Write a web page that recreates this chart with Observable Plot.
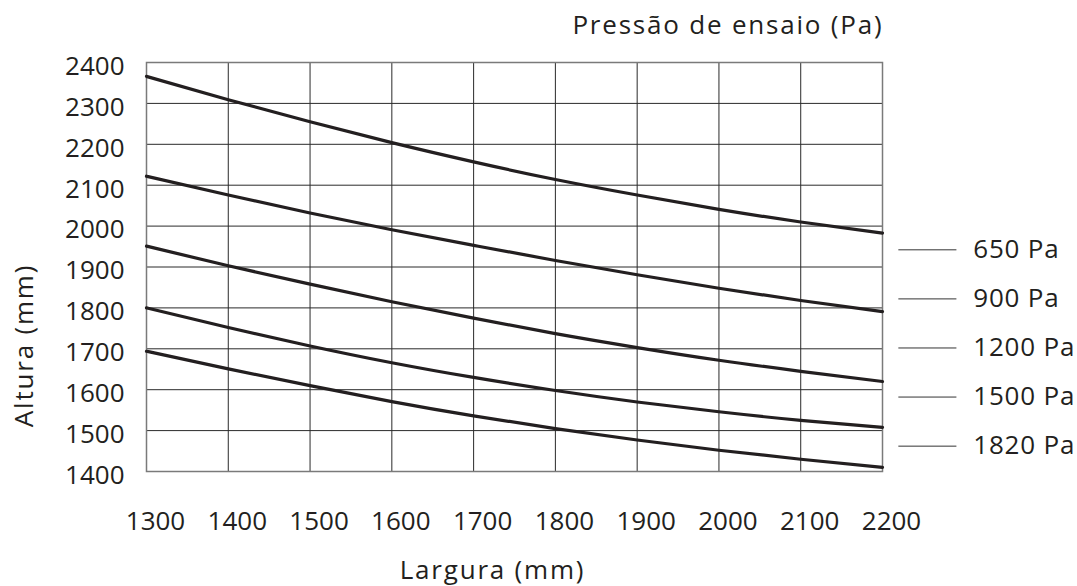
<!DOCTYPE html>
<html>
<head>
<meta charset="utf-8">
<script src="https://cdn.jsdelivr.net/npm/d3@7"></script>
<script src="https://cdn.jsdelivr.net/npm/@observablehq/plot@0.6"></script>
<style>
  html, body { margin: 0; padding: 0; background: #fff; overflow: hidden; }
</style>
</head>
<body>
<div id="chart"></div>
<script>
// Width (mm) sample points along each curve
const widths = [1300, 1400, 1500, 1600, 1700, 1800, 1900, 2000, 2100, 2200];
// Heights (mm) per test pressure
const h650  = [2366, 2309, 2255, 2204, 2157, 2114, 2076, 2041, 2010, 1983];
const h900  = [2122, 2076, 2032, 1991, 1953, 1916, 1881, 1848, 1818, 1791];
const h1200 = [1951, 1903, 1858, 1815, 1775, 1737, 1703, 1672, 1645, 1620];
const h1500 = [1800, 1752, 1707, 1666, 1630, 1598, 1570, 1546, 1525, 1508];
const h1820 = [1694, 1651, 1610, 1571, 1536, 1505, 1477, 1452, 1430, 1410];
const pressureLabels = ["650 Pa", "900 Pa", "1200 Pa", "1500 Pa", "1820 Pa"];
const xTicks = [1300, 1400, 1500, 1600, 1700, 1800, 1900, 2000, 2100, 2200];
const yTicks = [1400, 1500, 1600, 1700, 1800, 1900, 2000, 2100, 2200, 2300, 2400];
const titleText = "Pressão de ensaio (Pa)";
const xLabel = "Largura (mm)";
const yLabel = "Altura (mm)";

const seriesValues = [h650, h900, h1200, h1500, h1820];
const rows = pressureLabels.flatMap((p, s) =>
  widths.map((w, i) => ({ pressure: p, width: w, height: seriesValues[s][i] }))
);
const legend = pressureLabels.map((p, i) => ({ label: p, idx: i }));

const ink = "#231f20";
const fs = 26;

const chart = Plot.plot({
  width: 1077,
  height: 586,
  marginLeft: 146,
  marginRight: 195,
  marginTop: 62,
  marginBottom: 115,
  style: { fontFamily: "'Open Sans', sans-serif", fontSize: fs + "px", color: ink, background: "#fff", overflow: "visible" },
  x: { domain: [1300, 2200], label: null },
  y: { domain: [1400, 2400], label: null },
  marks: [
    Plot.gridX(xTicks, { stroke: "#2a2a2a", strokeOpacity: 1, strokeWidth: 1 }),
    Plot.gridY(yTicks, { stroke: "#2a2a2a", strokeOpacity: 1, strokeWidth: 1 }),
    Plot.frame({ stroke: "#7a7a7a", strokeWidth: 1.5 }),
    Plot.axisX(xTicks, { tickSize: 0, tickPadding: 40, dx: 9, tickFormat: d => String(d), fontSize: fs, fill: ink }),
    Plot.axisY(yTicks, { tickSize: 0, tickPadding: 22, dy: 4, tickFormat: d => String(d), fontSize: fs, fill: ink }),
    Plot.line(rows, { x: "width", y: "height", z: "pressure", stroke: ink, strokeWidth: 3.2, curve: "natural" }),
    Plot.ruleY(legend, { y: d => 1942 - 120 * d.idx, x1: 2220, x2: 2291, stroke: "#333", strokeWidth: 1 }),
    Plot.text(legend, { x: 2311, y: d => 1942 - 120 * d.idx, text: "label", textAnchor: "start", fontSize: fs, fill: ink }),
    Plot.text([titleText], { frameAnchor: "top-right", lineAnchor: "middle", textAnchor: "end", dy: -37, dx: 1, fontSize: fs, fill: ink }),
    Plot.text([xLabel], { frameAnchor: "bottom", lineAnchor: "middle", textAnchor: "middle", dy: 99, dx: -22, fontSize: fs, fill: ink }),
    Plot.text([yLabel], { frameAnchor: "left", y: 1708, lineAnchor: "middle", textAnchor: "middle", rotate: -90, dx: -122, fontSize: fs, fill: ink })
  ]
});
document.getElementById("chart").appendChild(chart);
const wide = [titleText, xLabel, yLabel];
d3.select(chart).selectAll("text")
  .filter(function () { return wide.includes(this.textContent); })
  .attr("letter-spacing", "1.8px");
d3.select(chart).selectAll("text")
  .filter(function () { return pressureLabels.includes(this.textContent); })
  .attr("letter-spacing", "0.8px");
</script>
</body>
</html>
